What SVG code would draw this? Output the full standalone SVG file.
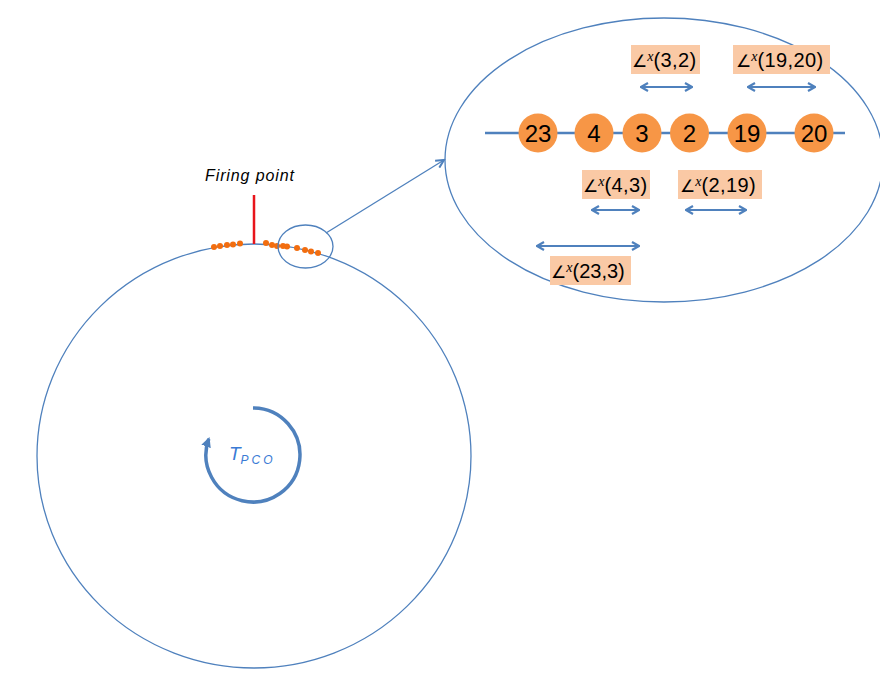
<svg xmlns="http://www.w3.org/2000/svg" width="880" height="699" viewBox="0 0 880 699">
  <style>
    .ring { fill: none; stroke: #4F81BD; stroke-width: 1.3; }
    .axis { stroke: #4F81BD; stroke-width: 2.5; }
    .node circle { fill: #F79646; }
    .node text { font-family: "Liberation Sans", Arial, sans-serif; font-size: 24px; fill: #000; text-anchor: middle; }
    .dot { fill: #F26D0F; }
    .dist rect { fill: #FAC9A5; }
    .dist text { font-family: "Liberation Sans", Arial, sans-serif; font-size: 20px; fill: #000; letter-spacing: 0.4px; }
    .dist .ang { font-family: "DejaVu Sans", sans-serif; font-size: 17px; letter-spacing: 0; }
    .dist .var { font-family: "Liberation Serif", serif; font-style: italic; font-size: 14px; letter-spacing: 0; }
    .span { stroke: #4F81BD; stroke-width: 2.2; marker-start: url(#chev); marker-end: url(#chev); }
  </style>
  <defs>
    <marker id="chev" viewBox="0 0 10 10" refX="9" refY="5" markerWidth="10" markerHeight="10" markerUnits="userSpaceOnUse" orient="auto-start-reverse">
      <polyline points="2,1 9,5 2,9" fill="none" stroke="#4F81BD" stroke-width="2.2"/>
    </marker>
    <marker id="head" viewBox="0 0 10 10" refX="9" refY="5" markerWidth="12" markerHeight="10" markerUnits="userSpaceOnUse" orient="auto">
      <polyline points="1,1 9,5 1,9" fill="none" stroke="#4F81BD" stroke-width="2"/>
    </marker>
    <marker id="cyc" viewBox="0 0 10 10" refX="8" refY="5" markerWidth="10" markerHeight="10" markerUnits="userSpaceOnUse" orient="auto">
      <path d="M0,0 L10,5 L0,10 Z" fill="#4F81BD"/>
    </marker>
  </defs>

  <!-- orbit and phase cycle -->
  <g id="orbit">
    <ellipse class="ring" cx="254" cy="456" rx="217" ry="212"/>
  </g>
  <g id="cycle">
    <path d="M253,408 A47,47 0 1 1 208.8,438.9" fill="none" stroke="#4F81BD" stroke-width="3.5" marker-end="url(#cyc)"/>
    <text x="229" y="460" font-family="Liberation Sans, Arial, sans-serif" font-style="italic" font-size="19" fill="#3A7BD5">T<tspan font-size="12" dy="4" letter-spacing="3">PCO</tspan></text>
  </g>

  <!-- firing point marker and pulses -->
  <g id="firing">
    <line x1="254" y1="195" x2="254" y2="244" stroke="#E8141B" stroke-width="2.5"/>
    <text x="205" y="181" font-family="Liberation Sans, Arial, sans-serif" font-style="italic" font-size="16" letter-spacing="0.9" fill="#000">Firing point</text>
  </g>
  <g id="pulses">
    <circle class="dot" cx="214" cy="247" r="3"/>
    <circle class="dot" cx="220" cy="246" r="3"/>
    <circle class="dot" cx="227" cy="245" r="3"/>
    <circle class="dot" cx="233" cy="244.5" r="3"/>
    <circle class="dot" cx="240" cy="243.5" r="3"/>
    <circle class="dot" cx="266" cy="243" r="3"/>
    <circle class="dot" cx="272" cy="245" r="3"/>
    <circle class="dot" cx="277" cy="246" r="3"/>
    <circle class="dot" cx="283" cy="246" r="3"/>
    <circle class="dot" cx="287" cy="246.5" r="3"/>
    <circle class="dot" cx="297" cy="248" r="3"/>
    <circle class="dot" cx="305" cy="250" r="3"/>
    <circle class="dot" cx="311" cy="251.5" r="3"/>
    <circle class="dot" cx="318" cy="253" r="3"/>
  </g>

  <!-- magnified view -->
  <g id="lens">
    <ellipse class="ring" cx="305.5" cy="246.5" rx="27.5" ry="21.5"/>
  </g>
  <g id="detail">
    <ellipse class="ring" cx="664" cy="160" rx="219" ry="142"/>
  </g>

  <g id="connectors">
    <line x1="326" y1="233" x2="444" y2="160" stroke="#4F81BD" stroke-width="1.3" marker-end="url(#head)"/>
    <line class="axis" x1="485" y1="133" x2="845" y2="133"/>
    <line class="span" x1="641" y1="87" x2="692" y2="87"/>
    <line class="span" x1="748" y1="87" x2="815" y2="87"/>
    <line class="span" x1="592" y1="210" x2="639" y2="210"/>
    <line class="span" x1="686" y1="210" x2="746" y2="210"/>
    <line class="span" x1="537" y1="246" x2="639" y2="246"/>
  </g>

  <g id="n23" class="node"><circle cx="538" cy="133" r="19.5"/><text x="538" y="142">23</text></g>
  <g id="n4" class="node"><circle cx="594" cy="133" r="19.5"/><text x="594" y="142">4</text></g>
  <g id="n3" class="node"><circle cx="642" cy="133" r="19.5"/><text x="642" y="142">3</text></g>
  <g id="n2" class="node"><circle cx="689.5" cy="133" r="19.5"/><text x="689.5" y="142">2</text></g>
  <g id="n19" class="node"><circle cx="747" cy="133" r="19.5"/><text x="747" y="142">19</text></g>
  <g id="n20" class="node"><circle cx="814" cy="133" r="19.5"/><text x="814" y="142">20</text></g>

  <!-- pairwise distance labels: angle sign with x, then the pair -->
  <g id="d3_2" class="dist">
    <rect x="631" y="45" width="69" height="29"/>
    <text x="632" y="67"><tspan class="ang">∠</tspan><tspan class="var" dy="-6">x</tspan><tspan dy="6">(3,2)</tspan></text>
  </g>
  <g id="d19_20" class="dist">
    <rect x="733" y="45" width="97" height="29"/>
    <text x="736" y="67"><tspan class="ang">∠</tspan><tspan class="var" dy="-6">x</tspan><tspan dy="6">(19,20)</tspan></text>
  </g>
  <g id="d4_3" class="dist">
    <rect x="582" y="170" width="68" height="29"/>
    <text x="583" y="192"><tspan class="ang">∠</tspan><tspan class="var" dy="-6">x</tspan><tspan dy="6">(4,3)</tspan></text>
  </g>
  <g id="d2_19" class="dist">
    <rect x="678" y="170" width="84" height="29"/>
    <text x="680" y="192"><tspan class="ang">∠</tspan><tspan class="var" dy="-6">x</tspan><tspan dy="6">(2,19)</tspan></text>
  </g>
  <g id="d23_3" class="dist">
    <rect x="550" y="256" width="81" height="29"/>
    <text x="551" y="278"><tspan class="ang">∠</tspan><tspan class="var" dy="-6">x</tspan><tspan dy="6" letter-spacing="0">(23,3)</tspan></text>
  </g>
</svg>
